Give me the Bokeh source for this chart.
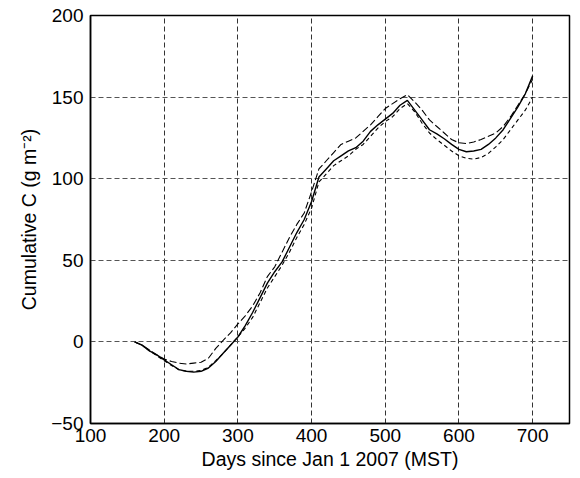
from bokeh.plotting import figure
from bokeh.models import Range1d, FixedTicker
from bokeh.embed import file_html
from bokeh.resources import INLINE

# Days since Jan 1 2007
days = [160, 170, 180, 190, 200, 210, 220, 230, 240, 250,
        260, 270, 280, 290, 300, 310, 320, 330, 340, 350,
        360, 370, 380, 390, 400, 410, 420, 430, 440, 450,
        460, 470, 480, 490, 500, 510, 520, 530, 540, 550,
        560, 570, 580, 590, 600, 610, 620, 630, 640, 650,
        660, 670, 680, 690, 700]

# Solid series
c_solid = [0, -2, -5.5, -8, -11, -14, -17, -18, -18.5, -18,
           -16, -12, -7, -2, 3, 10, 18, 27, 36, 43,
           49, 58, 67, 75, 86, 101, 106, 111, 114, 117,
           119, 123, 129, 133, 136.5, 140, 145, 148, 142, 136,
           130, 127.5, 124.5, 121, 118, 116.5, 117, 118, 121, 125,
           130, 137, 144, 152, 163]

# Upper dashed series
c_upper = [0, -2, -5, -8, -10.5, -12, -13, -13.5, -13, -12.5,
           -10, -4, 1, 5.5, 11, 16, 22, 30, 40, 46,
           55, 64, 72, 79, 92, 106, 111, 116, 121, 123,
           125, 129, 133, 138, 143, 146, 149, 151.5, 147, 142,
           136, 132, 128, 124, 122, 121.5, 122.5, 124, 126, 128,
           132, 138, 145, 152, 161]

# Lower dashed series
c_lower = [0, -2, -5.5, -8.5, -11.5, -14.5, -17, -18, -18, -17.5,
           -15.5, -11.5, -7, -2, 3, 8.5, 15, 24, 33, 40,
           47, 55, 64, 72, 82, 98, 103, 108, 111, 114,
           118, 121, 126, 131, 135, 138, 143, 146, 141, 134,
           128, 124, 120.5, 117, 114, 112.5, 112, 113, 115.5, 119.5,
           124, 130, 136, 142, 150]

x_ticks = [100, 200, 300, 400, 500, 600, 700]
y_ticks = [-50, 0, 50, 100, 150, 200]

FONT = "Liberation Sans"

p = figure(width=580, height=478, output_backend="svg", toolbar_location=None,
           x_range=Range1d(100, 750), y_range=Range1d(-50, 200),
           min_border_left=90, min_border_right=11, min_border_top=15, min_border_bottom=55)

p.background_fill_color = "white"
p.border_fill_color = "white"
p.outline_line_color = "black"
p.outline_line_width = 1.5

p.line(days, c_solid, line_color="black", line_width=1.4)
p.line(days, c_upper, line_color="black", line_width=1.1, line_dash="7 3")
p.line(days, c_lower, line_color="black", line_width=1.1, line_dash="4 3")

p.xaxis.ticker = FixedTicker(ticks=x_ticks)
p.yaxis.ticker = FixedTicker(ticks=y_ticks)

for ax in (p.xaxis, p.yaxis):
    ax.axis_line_color = "black"
    ax.axis_line_width = 1.5
    ax.major_tick_in = 0
    ax.major_tick_out = 0
    ax.minor_tick_in = 0
    ax.minor_tick_out = 0
    ax.major_label_text_font = FONT
    ax.major_label_text_font_size = "19px"
    ax.major_label_text_color = "black"
    ax.axis_label_text_font = FONT
    ax.axis_label_text_font_size = "19.5px"
    ax.axis_label_text_font_style = "normal"
    ax.axis_label_text_color = "black"

p.xaxis.axis_label = "Days since Jan 1 2007 (MST)"
p.yaxis.axis_label = "Cumulative C (g m\u207b\u00b2)"
p.xaxis.major_label_standoff = 5
p.yaxis.major_label_standoff = 7
p.xaxis.axis_label_standoff = 3
p.yaxis.axis_label_standoff = 8

p.xgrid.grid_line_color = "#333333"
p.xgrid.grid_line_dash = "5 3"
p.xgrid.grid_line_width = 1
p.ygrid.grid_line_color = "#555555"
p.ygrid.grid_line_dash = "5 3"
p.ygrid.grid_line_width = 1

open("out.html", "w").write(file_html(p, INLINE))
